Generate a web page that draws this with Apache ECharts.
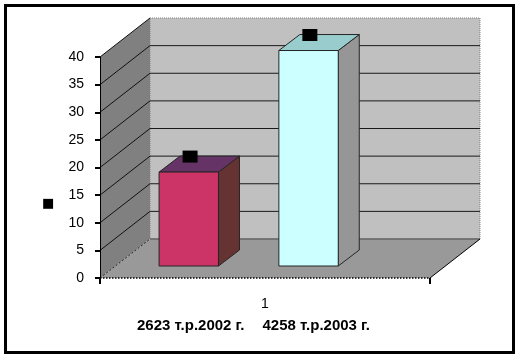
<!DOCTYPE html>
<html>
<head>
<meta charset="utf-8">
<script src="https://cdn.jsdelivr.net/npm/echarts@6/dist/echarts.min.js"></script>
<style>
html,body{margin:0;padding:0;background:#fff;}
#chart{width:521px;height:358px;}
</style>
</head>
<body>
<div id="chart"></div>
<script>
// ---- data ----
const categories = ['1'];
const seriesNames = ['2623 т.р.2002 г.', '4258 т.р.2003 г.'];
const values2002 = [17];
const values2003 = [39];
const yTicks = [0, 5, 10, 15, 20, 25, 30, 35, 40];
const axisTitle = '■';

// ---- layout / style constants ----
const DEPTH = [50, -39];          // wall depth offset (px)
const BAR_POS = [0.179, 0.542];   // front-face left, fraction of band
const BAR_W = 0.18;               // fraction of band
const BAR_SHIFT = [0, -12];       // bar placement inside depth
const BAR_DEPTH = [21, -16];
const FRONT = ['#CC3366', '#CCFFFF'];
const TOP = ['#663366', '#99CCCC'];
const SIDE = ['#663333', '#969696'];

const chart = echarts.init(document.getElementById('chart'));

function renderWalls(params, api) {
  const cs = params.coordSys;
  const L = cs.x, R = cs.x + cs.width;
  const B = api.coord([0, yTicks[0]])[1];
  const T = api.coord([0, yTicks[yTicks.length - 1]])[1];
  const dx = DEPTH[0], dy = DEPTH[1];
  const ch = [];
  ch.push({type: 'polygon', shape: {points: [[L + dx, T + dy], [R + dx, T + dy], [R + dx, B + dy], [L + dx, B + dy]]},
    style: {fill: '#C0C0C0', stroke: '#808080', lineWidth: 1, lineDash: [1, 1]}});
  ch.push({type: 'polygon', shape: {points: [[L, B], [L + dx, B + dy], [L + dx, T + dy], [L, T]]},
    style: {fill: '#808080', stroke: null}});
  ch.push({type: 'polygon', shape: {points: [[L, B], [R, B], [R + dx, B + dy], [L + dx, B + dy]]},
    style: {fill: '#999999', stroke: null}});
  yTicks.forEach(function (v, i) {
    const y = api.coord([0, v])[1];
    if (i > 0 && i < yTicks.length - 1) {
      ch.push({type: 'line', shape: {x1: L + dx, y1: y + dy, x2: R + dx, y2: y + dy}, style: {stroke: '#1a1a1a', lineWidth: 1}});
    }
    if (i > 0) {
      ch.push({type: 'line', shape: {x1: L, y1: y, x2: L + dx, y2: y + dy}, style: {stroke: '#111', lineWidth: 1}});
    }
  });
  ch.push({type: 'line', shape: {x1: L + dx, y1: B + dy, x2: R + dx, y2: B + dy}, style: {stroke: '#666', lineWidth: 1.5}});
  ch.push({type: 'line', shape: {x1: L, y1: B, x2: L + dx, y2: B + dy}, style: {stroke: '#222', lineWidth: 1, lineDash: [2, 2]}});
  ch.push({type: 'line', shape: {x1: L, y1: B, x2: R, y2: B}, style: {stroke: '#000', lineWidth: 1.5, lineDash: [1.5, 1.5]}});
  ch.push({type: 'line', shape: {x1: R, y1: B, x2: R + dx, y2: B + dy}, style: {stroke: '#000', lineWidth: 1}});
  return {type: 'group', children: ch};
}

function makeBarRenderer(k) {
  return function (params, api) {
    const idx = api.value(0);
    const v = api.value(1);
    const band = api.size([1, 0])[0];
    const cx = api.coord([idx, 0])[0];
    const left = cx - band / 2;
    const fx = left + band * BAR_POS[k];
    const fw = band * BAR_W;
    const floorY = api.coord([idx, 0])[1] + BAR_SHIFT[1];
    const topY = api.coord([idx, v])[1] + BAR_SHIFT[1];
    const ddx = BAR_DEPTH[0], ddy = BAR_DEPTH[1];
    const stroke = '#262626';
    return {type: 'group', children: [
      {type: 'polygon', shape: {points: [[fx + fw, topY], [fx + fw + ddx, topY + ddy], [fx + fw + ddx, floorY + ddy], [fx + fw, floorY]]},
        style: {fill: SIDE[k], stroke: stroke, lineWidth: 1}},
      {type: 'polygon', shape: {points: [[fx, topY], [fx + fw, topY], [fx + fw + ddx, topY + ddy], [fx + ddx, topY + ddy]]},
        style: {fill: TOP[k], stroke: stroke, lineWidth: 1}},
      {type: 'rect', shape: {x: fx, y: topY, width: fw, height: floorY - topY},
        style: {fill: FRONT[k], stroke: stroke, lineWidth: 1}},
      {type: 'rect', shape: {x: fx + 31 - 7.5, y: topY - 15.5 - 6, width: 15, height: 12},
        style: {fill: '#000', stroke: null}}
    ]};
  };
}

const font = '"Liberation Sans", Arial, sans-serif';

const option = {
  backgroundColor: '#fff',
  animation: false,
  title: {
    text: axisTitle, left: 37, top: 192,
    textStyle: {fontSize: 13, color: '#000', fontWeight: 'normal', fontFamily: '"DejaVu Sans", sans-serif'}
  },
  legend: {
    data: seriesNames,
    left: 127, top: 313,
    icon: 'none', itemWidth: 0, itemHeight: 0, itemGap: 13,
    textStyle: {fontSize: 15, fontWeight: 'bold', color: '#000', fontFamily: font},
    selectedMode: false
  },
  graphic: [{
    type: 'rect', z: 100,
    shape: {x: 5.5, y: 5.5, width: 508, height: 347},
    style: {fill: null, stroke: '#000', lineWidth: 3}
  }],
  grid: {left: 100, right: 91, top: 57, bottom: 80},
  xAxis: {
    type: 'category', data: categories, z: 10,
    axisLine: {show: false},
    axisTick: {show: true, length: 6, lineStyle: {color: '#000', width: 2}},
    axisLabel: {margin: 19, fontSize: 14, color: '#000', fontFamily: font},
    splitLine: {show: false}
  },
  yAxis: {
    type: 'value', min: 0, max: 40, interval: 5, z: 10,
    axisLine: {show: true, lineStyle: {color: '#000', width: 1}},
    axisTick: {show: true, length: 5, lineStyle: {color: '#000', width: 2}},
    axisLabel: {margin: 16, fontSize: 14, color: '#000', fontFamily: font},
    splitLine: {show: false}
  },
  series: [
    {type: 'custom', name: 'walls', z: 1, silent: true, renderItem: renderWalls, data: [[0, 40]]},
    {type: 'custom', name: seriesNames[0], z: 2, renderItem: makeBarRenderer(0),
      data: values2002.map(function (v, i) { return [i, v]; }), itemStyle: {color: FRONT[0]}},
    {type: 'custom', name: seriesNames[1], z: 2, renderItem: makeBarRenderer(1),
      data: values2003.map(function (v, i) { return [i, v]; }), itemStyle: {color: FRONT[1]}}
  ]
};
chart.setOption(option);
</script>
</body>
</html>
